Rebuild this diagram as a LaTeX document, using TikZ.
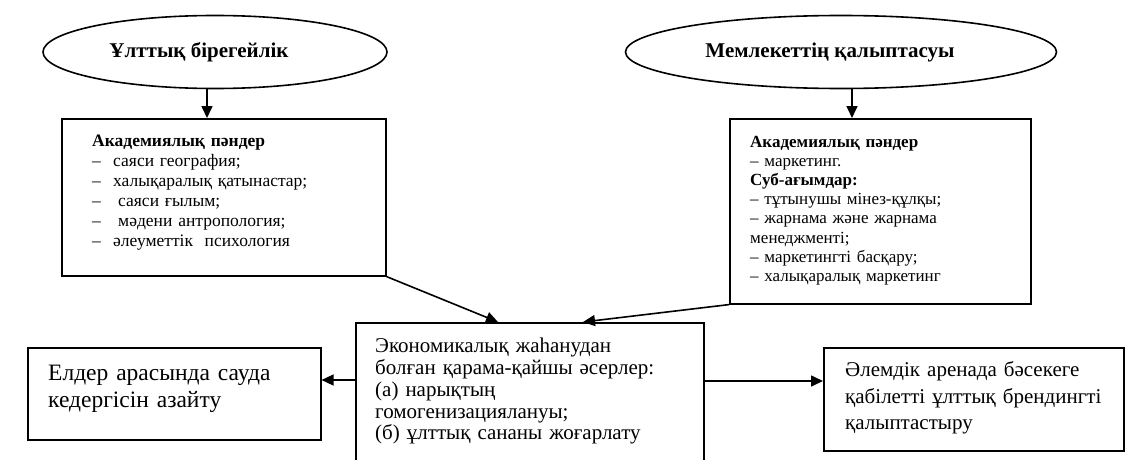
\documentclass[tikz,border=0pt]{standalone}
\usepackage{fontspec}
\setmainfont{Liberation Serif}
\usetikzlibrary{shapes.geometric,arrows.meta}
\begin{document}
\begin{tikzpicture}[x=1pt,y=-1pt,
 box/.style={draw,line width=1.6pt,rectangle,inner sep=0pt,anchor=north west},
 oval/.style={draw,line width=1.6pt,ellipse,inner sep=0pt,font=\fontsize{21}{24}\selectfont\bfseries},
 arr/.style={line width=1.6pt,-{Triangle[length=12pt,width=11pt]}},
 txt/.style={inner sep=0pt,anchor=base west,align=left},
]
\useasboundingbox (0,0) rectangle (1126,460);
\fill[white] (0,0) rectangle (1126,460);
\clip (0,0) rectangle (1126,460);

\node[oval,minimum width=344pt,minimum height=73pt] (e1) at (215,52) {\raisebox{3pt}{Ұлттық бірегейлік}\hspace*{32pt}};
\node[oval,minimum width=431pt,minimum height=73pt] (e2) at (841,52) {\raisebox{3pt}{Мемлекеттің қалыптасуы}\hspace*{22pt}};

\node[box,minimum width=324pt,minimum height=157pt] (b1) at (61,118) {};
\node[box,minimum width=301pt,minimum height=185pt] (b2) at (729,118) {};
\node[box,minimum width=348pt,minimum height=160pt] (c) at (355,322) {};
\node[box,minimum width=293pt,minimum height=92pt] (b3) at (27,347) {};
\node[box,minimum width=300pt,minimum height=103pt] (b4) at (823,347) {};

\node[txt,text width=285pt,font=\fontsize{17.5}{20}\selectfont] (t1) at (92,146)
 {\textbf{Академиялық пәндер}\\
  \makebox[21pt][l]{–}саяси география;\\
  \makebox[21pt][l]{–}халықаралық қатынастар;\\
  \makebox[26pt][l]{–}саяси ғылым;\\
  \makebox[26pt][l]{–}мәдени антропология;\\
  \makebox[21pt][l]{–}әлеуметтік\ \ психология};

\node[txt,text width=275pt,font=\fontsize{17}{19.2}\selectfont] (t2) at (750,147)
 {\textbf{Академиялық пәндер}\\
  – маркетинг.\\
  \textbf{Суб-ағымдар:}\\
  – тұтынушы мінез-құлқы;\\
  – жарнама және жарнама\\
  менеджменті;\\
  – маркетингті басқару;\\
  – халықаралық маркетинг};

\node[txt,text width=325pt,font=\fontsize{21}{21.8}\selectfont] (t3) at (375,352.7)
 {Экономикалық жаһанудан\\
  болған қарама-қайшы әсерлер:\\
  (а) нарықтың\\
  гомогенизациялануы;\\
  (б) ұлттық сананы жоғарлату};

\node[txt,text width=265pt,font=\fontsize{23.5}{27}\selectfont] (t4) at (48,380.3)
 {Елдер арасында сауда\\
  кедергісін азайту};

\node[txt,text width=275pt,font=\fontsize{21}{26.5}\selectfont] (t5) at (845,376.7)
 {Әлемдік аренада бәсекеге\\
  қабілетті ұлттық брендингті\\
  қалыптастыру};

\coordinate (a1) at (207,88);
\coordinate (a2) at (852,88);
\draw[arr] (a1) -- (a1 |- b1.north);
\draw[arr] (a2) -- (a2 |- b2.north);

\coordinate (d1) at (498,322);
\coordinate (d2) at (583,322);
\draw[arr] (b1.south east) -- (d1);
\draw[arr] (b2.south west) -- (d2);

\coordinate (h1) at (355,380);
\coordinate (h2) at (703,381);
\draw[arr] (h1) -- (h1 -| b3.east);
\draw[arr] (h2) -- (h2 -| b4.west);
\end{tikzpicture}
\end{document}
